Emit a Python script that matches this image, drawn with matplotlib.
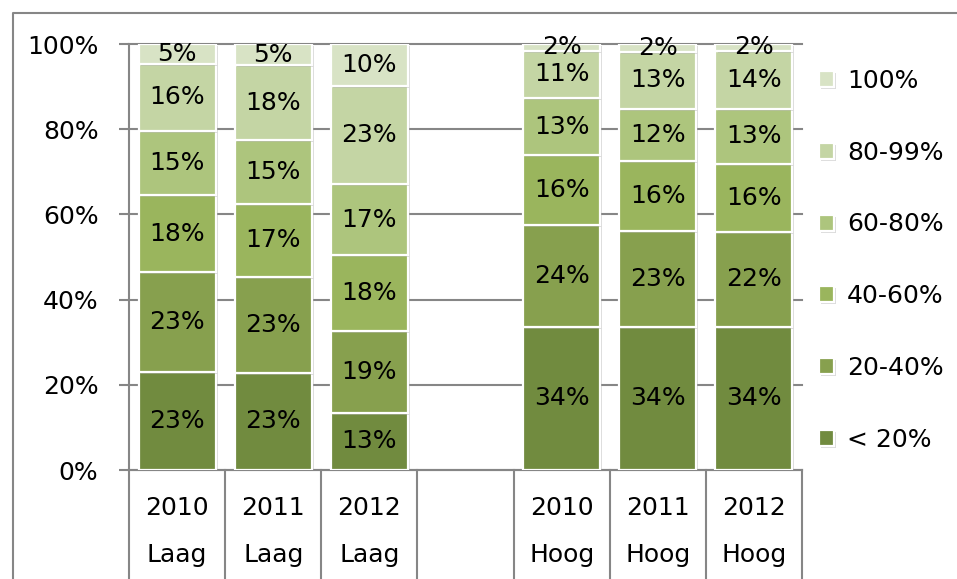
import matplotlib
matplotlib.use("Agg")
import matplotlib.pyplot as plt
import matplotlib.patheffects as pe
from matplotlib.lines import Line2D
import numpy as np

# data (share of respondents per bin, %)
groups = ["Laag", "Hoog"]
years = ["2010", "2011", "2012"]
bins = ["< 20%", "20-40%", "40-60%", "60-80%", "80-99%", "100%"]
lt20 = [23.0, 22.8, 13.4, 33.6, 33.6, 33.6]
p20_40 = [23.4, 22.6, 19.2, 24.0, 22.6, 22.3]
p40_60 = [18.2, 17.0, 17.8, 16.3, 16.4, 16.0]
p60_80 = [15.0, 15.0, 16.8, 13.4, 12.2, 12.9]
p80_99 = [15.8, 17.6, 23.0, 11.1, 13.3, 13.6]
p100 = [4.6, 5.0, 9.8, 1.6, 1.9, 1.6]
series = [lt20, p20_40, p40_60, p60_80, p80_99, p100]

colors = ["#718B3F", "#87A04E", "#9AB55D", "#ADC57D", "#C4D5A4", "#D8E3C5"]
grid_col = "#868686"
fs = 18

plt.rcParams["font.family"] = "DejaVu Sans"
fig = plt.figure(figsize=(9.57, 5.79), dpi=100)
ax = fig.add_axes([129 / 957, 1 - 470 / 579, (802 - 129) / 957, 426 / 579])

# x positions: one empty slot between the two groups
x = np.array([g * (len(years) + 1) + i for g in range(len(groups)) for i in range(len(years))])
cat_years = [y for g in groups for y in years]
cat_groups = [g for g in groups for y in years]

shadow = [pe.SimplePatchShadow(offset=(1.5, -1.5), shadow_rgbFace="#999999", alpha=0.35), pe.Normal()]
bottom = np.zeros(len(x))
for vals, lab, c in zip(series, bins, colors):
    vals = np.array(vals)
    bars = ax.bar(x, vals, 0.8, bottom=bottom, color=c, edgecolor="white",
                  linewidth=1.6, label=lab, zorder=3)
    for b in bars:
        b.set_path_effects(shadow)
    ax.bar_label(bars, labels=[f"{round(v)}%" for v in vals], label_type="center",
                 fontsize=fs, color="black", zorder=5)
    bottom += vals

ax.set_xlim(-0.5, 6.5)
ax.set_ylim(0, 100)
ax.set_yticks([0, 20, 40, 60, 80, 100])
ax.set_yticklabels([f"{t}%" for t in [0, 20, 40, 60, 80, 100]], fontsize=fs)
ax.yaxis.grid(True, color=grid_col, linewidth=1.5, zorder=0)
for gl in ax.get_ygridlines():
    gl.set_clip_on(False)
ax.tick_params(axis="y", length=7, width=1.5, color=grid_col, pad=15)
ax.tick_params(axis="x", length=0, labelbottom=False)
for s in ["top", "right"]:
    ax.spines[s].set_visible(False)
for s in ["left", "bottom"]:
    ax.spines[s].set_color(grid_col)
    ax.spines[s].set_linewidth(1.5)

# two-level category axis
tr = ax.get_xaxis_transform()
for xi, yr, gr in zip(x, cat_years, cat_groups):
    ax.text(xi, -0.089, yr, transform=tr, ha="center", va="center", fontsize=fs)
    ax.text(xi, -0.2, gr, transform=tr, ha="center", va="center", fontsize=fs)
for b in np.arange(-0.5, 7, 1.0):
    ax.add_line(Line2D([b, b], [0, -0.3], transform=tr, color=grid_col,
                       linewidth=1.5, clip_on=False))

# legend
h, l = ax.get_legend_handles_labels()
leg = ax.legend(h[::-1], l[::-1], loc="upper left", bbox_to_anchor=(1.011, 0.965),
                frameon=False, fontsize=fs, handlelength=0.6, handleheight=0.6,
                handletextpad=0.5, labelspacing=1.91, borderaxespad=0)

# outer chart border
fig.add_artist(Line2D([13 / 957, 13 / 957, 1], [0, 1 - 13 / 579, 1 - 13 / 579],
                      transform=fig.transFigure, color=grid_col, linewidth=1.5))

fig.savefig("out.png", dpi=100)
